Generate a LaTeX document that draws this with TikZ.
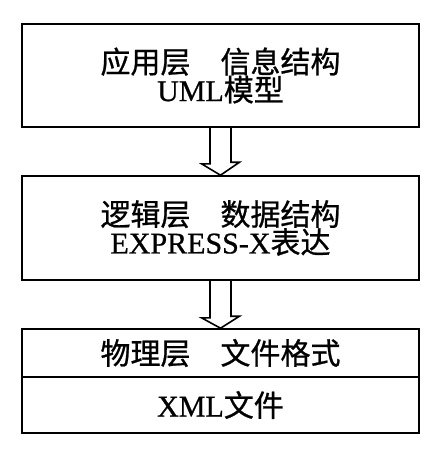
\documentclass[tikz,border=0pt]{standalone}
\usepackage{fontspec}
\setmainfont{Liberation Serif}[BoldFont=Liberation Serif, BoldFeatures={FakeBold=0.8}]
\newfontfamily\cjk{Noto Sans CJK SC}[BoldFont=Noto Sans CJK SC, BoldFeatures={FakeBold=0.8}]
\begin{document}
\begin{tikzpicture}[x=1pt,y=-1pt,
  box/.style={draw, line width=1.6pt, minimum width=397pt, align=center, inner sep=0pt,
    font=\fontsize{30}{28}\selectfont\bfseries},
  blockarrow/.style={draw, line width=1.6pt, line join=miter}]
\useasboundingbox (0,0) rectangle (440,464);
\node[box, minimum height=103pt] (b1) at (220.5,75.5) {{\cjk 应用层　信息结构}\\UML{\cjk 模型}};
\node[box, minimum height=104pt] (b2) at (220.5,228) {{\cjk 逻辑层　数据结构}\\EXPRESS-X{\cjk 表达}};
\node[box, minimum height=48pt] (b3a) at (220.5,353) {{\cjk 物理层　文件格式}};
\node[box, minimum height=56pt] (b3b) at (220.5,405) {XML{\cjk 文件}};
\draw[blockarrow] ([xshift=-10.5pt]b1.south) -- ++(0,36) -- ++(-8.5,0) -- (b2.north)
  -- ++(19,-13) -- ++(-8.5,0) -- ++(0,-36);
\draw[blockarrow] ([xshift=-10.5pt]b2.south) -- ++(0,37) -- ++(-8.5,0) -- (b3a.north)
  -- ++(19,-12) -- ++(-8.5,0) -- ++(0,-37);
\end{tikzpicture}
\end{document}
